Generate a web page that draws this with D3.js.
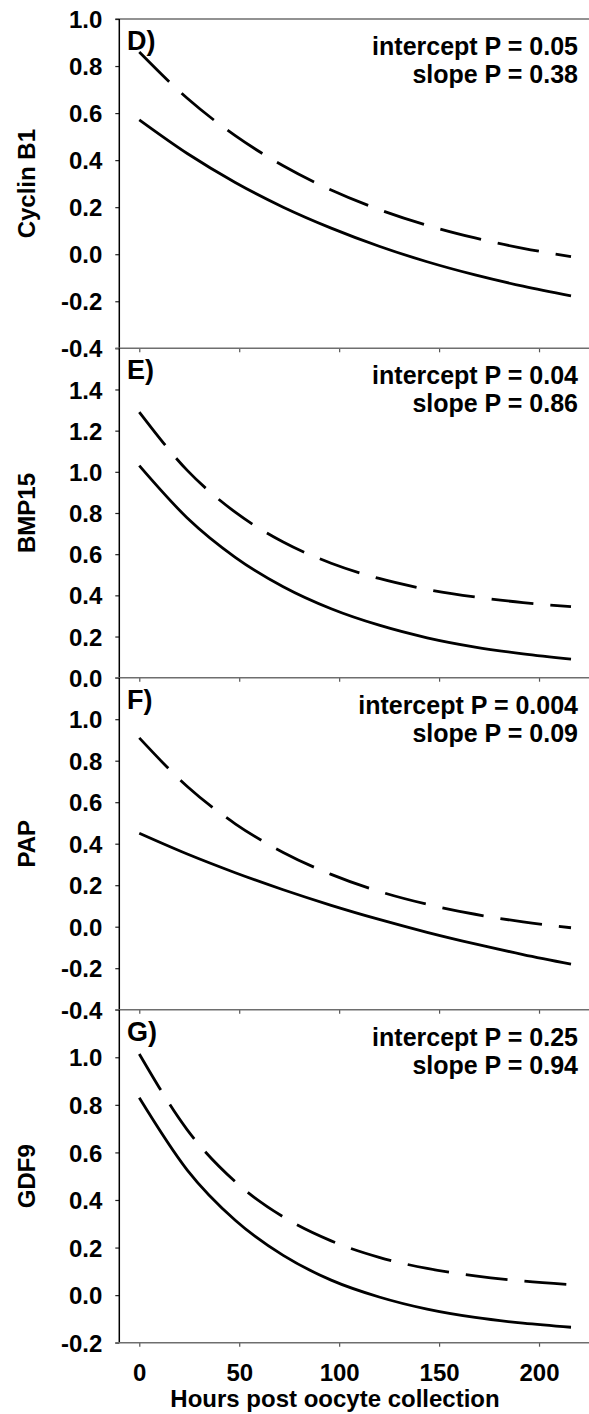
<!DOCTYPE html>
<html>
<head>
<meta charset="utf-8">
<script src="https://cdn.jsdelivr.net/npm/d3@7"></script>
<style>
  html, body { margin: 0; padding: 0; background: #fff; }
  svg { display: block; }
  text { font-family: Arial, "Liberation Sans", sans-serif; font-weight: bold; fill: #000; }
</style>
</head>
<body>
<svg id="chart" width="589" height="1414"></svg>
<script>
// ---- Data ----
const hours = [0, 24, 48, 72, 96, 120, 144, 168, 192, 216];
const xTicks = [0, 50, 100, 150, 200];
const xTitle = "Hours post oocyte collection";

const panelLabels = ["D)", "E)", "F)", "G)"];
const yTitles = ["Cyclin B1", "BMP15", "PAP", "GDF9"];
const interceptP = ["intercept P = 0.05", "intercept P = 0.04", "intercept P = 0.004", "intercept P = 0.25"];
const slopeP = ["slope P = 0.38", "slope P = 0.86", "slope P = 0.09", "slope P = 0.94"];

const cyclinB1Solid  = [0.571, 0.428, 0.305, 0.200, 0.111, 0.034, -0.032, -0.088, -0.136, -0.177];
const cyclinB1Dashed = [0.860, 0.663, 0.504, 0.376, 0.273, 0.190, 0.123, 0.069, 0.025, -0.010];
const bmp15Solid     = [1.030, 0.776, 0.585, 0.442, 0.335, 0.255, 0.194, 0.149, 0.116, 0.090];
const bmp15Dashed    = [1.290, 1.007, 0.804, 0.659, 0.556, 0.482, 0.429, 0.392, 0.365, 0.345];
const papSolid       = [0.450, 0.350, 0.260, 0.178, 0.103, 0.035, -0.027, -0.083, -0.134, -0.180];
const papDashed      = [0.910, 0.676, 0.496, 0.358, 0.252, 0.170, 0.108, 0.060, 0.023, -0.005];
const gdf9Solid      = [0.830, 0.526, 0.315, 0.167, 0.063, -0.008, -0.059, -0.094, -0.118, -0.135];
const gdf9Dashed     = [1.014, 0.695, 0.477, 0.329, 0.228, 0.159, 0.112, 0.081, 0.059, 0.044];

const yTicksD = [-0.4, -0.2, 0.0, 0.2, 0.4, 0.6, 0.8, 1.0];
const yTicksE = [0.0, 0.2, 0.4, 0.6, 0.8, 1.0, 1.2, 1.4];
const yTicksF = [-0.4, -0.2, 0.0, 0.2, 0.4, 0.6, 0.8, 1.0];
const yTicksG = [-0.2, 0.0, 0.2, 0.4, 0.6, 0.8, 1.0];

// ---- Layout ----
const svg = d3.select("#chart");
const axisX = 119.3, rightX = 589;
const x = d3.scaleLinear().domain([-10, 225]).range([axisX, rightX]);
const FONT = "Arial, 'Liberation Sans', sans-serif";

const panels = [
  { top: 19,    bottom: 348.3,  domain: [-0.4, 1.0], ticks: yTicksD, solid: cyclinB1Solid, dashed: cyclinB1Dashed },
  { top: 348.3, bottom: 677.7,  domain: [0.0, 1.6],  ticks: yTicksE, solid: bmp15Solid,    dashed: bmp15Dashed },
  { top: 677.7, bottom: 1009.7, domain: [-0.4, 1.2], ticks: yTicksF, solid: papSolid,      dashed: papDashed },
  { top: 1009.7,bottom: 1342.7, domain: [-0.2, 1.2], ticks: yTicksG, solid: gdf9Solid,     dashed: gdf9Dashed }
];

const fmt = d => (Math.abs(d) < 1e-9 ? 0 : d).toFixed(1);

panels.forEach((p, i) => {
  const y = d3.scaleLinear().domain(p.domain).range([p.bottom, p.top]);
  const g = svg.append("g");

  if (i === 0) {
    g.append("line").attr("x1", axisX - 4).attr("x2", rightX)
      .attr("y1", p.top).attr("y2", p.top)
      .attr("stroke", "#6e6e6e").attr("stroke-width", 1.5);
  }

  // y axis
  const ya = g.append("g").attr("transform", `translate(${axisX},0)`)
    .call(d3.axisLeft(y).tickValues(p.ticks).tickFormat(fmt).tickSize(4).tickPadding(13).tickSizeOuter(0));
  ya.select(".domain").remove();
  ya.selectAll(".tick line").attr("stroke", "#222").attr("stroke-width", 1.2);
  ya.selectAll(".tick text").attr("font-size", 24).attr("font-family", FONT)
    .attr("font-weight", "bold").attr("fill", "#000").attr("dy", "0.36em");
  g.append("line").attr("x1", axisX).attr("x2", axisX).attr("y1", p.top).attr("y2", p.bottom)
    .attr("stroke", "#000").attr("stroke-width", 1.5);

  // bottom x axis (ticks pointing down)
  const xa = g.append("g").attr("transform", `translate(0,${p.bottom})`)
    .call(d3.axisBottom(x).tickValues(xTicks).tickSize(4).tickSizeOuter(0).tickPadding(17));
  xa.select(".domain").remove();
  xa.selectAll(".tick line").attr("stroke", "#555").attr("stroke-width", 1.2);
  if (i < panels.length - 1) {
    xa.selectAll(".tick text").remove();
  } else {
    xa.selectAll(".tick text").attr("font-size", 24).attr("font-family", FONT)
      .attr("font-weight", "bold").attr("fill", "#000").attr("dy", "0.71em");
  }
  g.append("line").attr("x1", axisX - 4).attr("x2", rightX)
    .attr("y1", p.bottom).attr("y2", p.bottom)
    .attr("stroke", "#6e6e6e").attr("stroke-width", 1.5);

  // curves
  const line = d3.line().x((d, k) => x(hours[k])).y(d => y(d)).curve(d3.curveMonotoneX);
  g.append("path").datum(p.solid).attr("d", line)
    .attr("fill", "none").attr("stroke", "#000").attr("stroke-width", 2.8);
  g.append("path").datum(p.dashed).attr("d", line)
    .attr("fill", "none").attr("stroke", "#000").attr("stroke-width", 2.8)
    .attr("stroke-dasharray", "42,17");

  // panel label
  g.append("text").attr("x", 127).attr("y", p.top + 31).attr("font-size", 27).text(panelLabels[i]);

  // stats
  g.append("text").attr("x", 578).attr("y", p.top + 36).attr("font-size", 25)
    .attr("text-anchor", "end").text(interceptP[i]);
  g.append("text").attr("x", 578).attr("y", p.top + 64).attr("font-size", 25)
    .attr("text-anchor", "end").text(slopeP[i]);

  // y title
  const cy = (p.top + p.bottom) / 2;
  g.append("text").attr("transform", `translate(35,${cy}) rotate(-90)`)
    .attr("text-anchor", "middle").attr("font-size", 24).text(yTitles[i]);
});

// x title
svg.append("text").attr("x", 335).attr("y", 1407).attr("text-anchor", "middle")
  .attr("font-size", 24).text(xTitle);
</script>
</body>
</html>
